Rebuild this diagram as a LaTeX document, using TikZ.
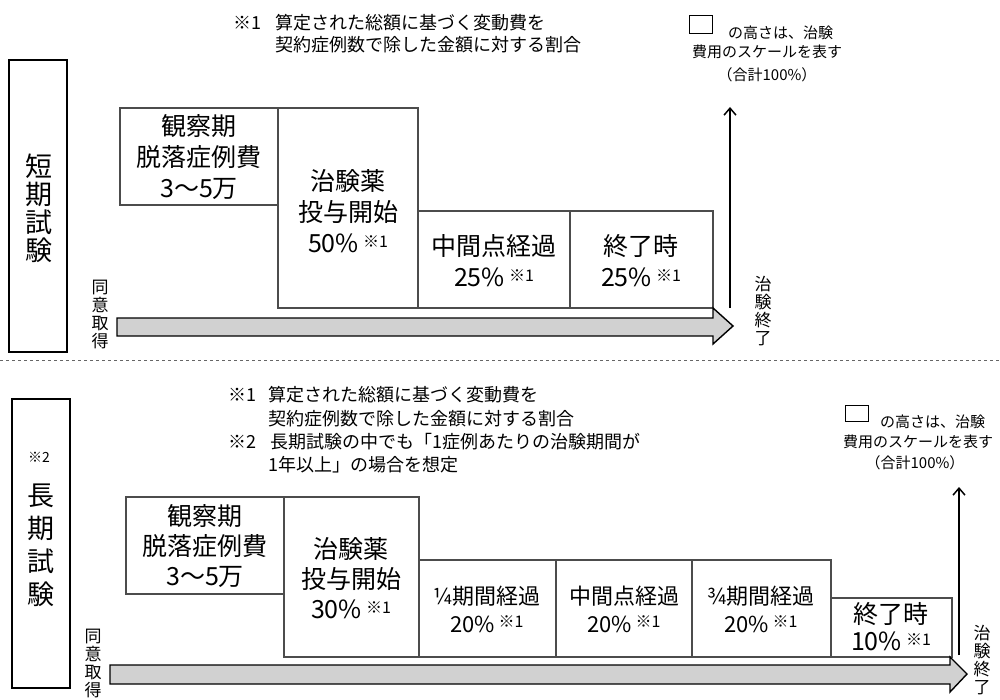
\documentclass[tikz,border=0pt]{standalone}
\usepackage{fontspec}
\setmainfont{Noto Sans CJK JP}
\usetikzlibrary{arrows.meta}

\newcommand{\fsz}[2]{\fontsize{#1}{#2}\selectfont}
\newcommand{\komeone}{\,\raisebox{5pt}{\fsz{16}{16}\selectfont ※1}}

\begin{document}
\begin{tikzpicture}[x=1pt,y=-1pt,
  box/.style={draw=black!70,line width=1.4pt},
  frame/.style={draw=black,line width=2pt},
  timeline/.style={draw=black,line width=1.4pt,fill=black!18},
  scale arrow/.style={line width=1.5pt,-{Straight Barb[length=7pt,width=12pt]}},
  boxtxt/.style={align=center,inner sep=0pt,font=\fsz{25}{31}},
  midtxt/.style={align=center,inner sep=0pt,font=\fsz{22}{28}},
  big/.style={align=center,inner sep=0pt,font=\fsz{27}{28}},
  side/.style={align=center,inner sep=0pt,font=\fsz{17}{18}},
  note/.style={anchor=west,inner sep=0pt,font=\fsz{18}{18}},
  legend/.style={inner sep=0pt,font=\fsz{15}{15}}]

\useasboundingbox[fill=white] (0,0) rectangle (1000,700);

% ---- short trial ----
\begin{scope}
\draw[frame] (9,60) rectangle (67,352);
\node[big] (short) at (39,208) {短\\期\\試\\験};

\node[note] (s1k) at (233,23) {※1};
\node[note] (s1a) at (275,23) {算定された総額に基づく変動費を};
\node[note] (s1b) at (275,45) {契約症例数で除した金額に対する割合};

\draw[line width=1pt] (689,16) rectangle (712,34);
\node[legend,anchor=west] (sleg1) at (728,33) {の高さは、治験};
\node[legend] (sleg2) at (767,52) {費用のスケールを表す};
\node[legend] (sleg3) at (767,75) {（合計100\%）};

\draw[box] (120,108) rectangle (278,205);
\draw[box] (278,108) rectangle (418,308);
\draw[box] (418,211) rectangle (570,308);
\draw[box] (570,211) rectangle (713,308);

\node[boxtxt] (sobs) at (199,157) {観察期\\脱落症例費\\3〜5万};
\node[boxtxt] (sdose) at (348,211) {治験薬\\投与開始\\50\%\komeone};
\node[boxtxt] (smid) at (494,261) {中間点経過\\25\%\komeone};
\node[boxtxt] (send) at (641,261) {終了時\\25\%\komeone};

\draw[timeline] (117,318) -- (713,318) -- (713,308) -- (733,326) -- (713,344) -- (713,336) -- (117,336) -- cycle;

\node[side] (scons) at (100,314) {同\\意\\取\\得};
\node[side] (sfin) at (763,311) {治\\験\\終\\了};

\coordinate (sup0) at (730,308);
\coordinate (sup1) at (730,107);
\draw[scale arrow] (sup0) -- (sup1);
\end{scope}

\draw[dashed,black!60] (0,360) -- (1000,360);

% ---- long trial ----
\begin{scope}
\draw[frame] (12,399) rectangle (70,688);
\node[legend,font=\fsz{14}{14}] (lkome) at (39,457) {※2};
\node[big,font=\fsz{27}{33}] (long) at (41,545) {長\\期\\試\\験};

\node[note] (l1k) at (228,395) {※1};
\node[note] (l1a) at (268,395) {算定された総額に基づく変動費を};
\node[note] (l1b) at (268,419) {契約症例数で除した金額に対する割合};
\node[note] (l2k) at (228,442) {※2};
\node[note] (l2a) at (270,442) {長期試験の中でも「1症例あたりの治験期間が};
\node[note] (l2b) at (268,465) {1年以上」の場合を想定};

\draw[line width=1pt] (845,405) rectangle (868,421);
\node[legend,anchor=west] (lleg1) at (880,422) {の高さは、治験};
\node[legend] (lleg2) at (918,442) {費用のスケールを表す};
\node[legend] (lleg3) at (915,463) {（合計100\%）};

\draw[box] (126,497) rectangle (284,594);
\draw[box] (284,497) rectangle (419,657);
\draw[box] (419,560) rectangle (556,657);
\draw[box] (556,560) rectangle (692,657);
\draw[box] (692,560) rectangle (831,657);
\draw[box] (831,598) rectangle (952,657);

\node[boxtxt,font=\fsz{25}{30}] (lobs) at (205,546) {観察期\\脱落症例費\\3〜5万};
\node[boxtxt,font=\fsz{25}{30}] (ldose) at (351,578) {治験薬\\投与開始\\30\%\komeone};
\node[midtxt] (lq1) at (487,609) {¼期間経過\\20\%\komeone};
\node[midtxt] (lmid) at (624,609) {中間点経過\\20\%\komeone};
\node[midtxt] (lq3) at (761,609) {¾期間経過\\20\%\komeone};
\node[boxtxt,font=\fsz{25}{27}] (lend) at (891,627) {終了時\\10\%\komeone};

\draw[timeline] (110,665) -- (950,665) -- (950,657) -- (967,674) -- (950,692) -- (950,684) -- (110,684) -- cycle;

\node[side] (lcons) at (93,663) {同\\意\\取\\得};
\node[side] (lfin) at (982,660) {治\\験\\終\\了};

\coordinate (lup0) at (959,655);
\coordinate (lup1) at (959,487);
\draw[scale arrow] (lup0) -- (lup1);
\end{scope}

\end{tikzpicture}
\end{document}
